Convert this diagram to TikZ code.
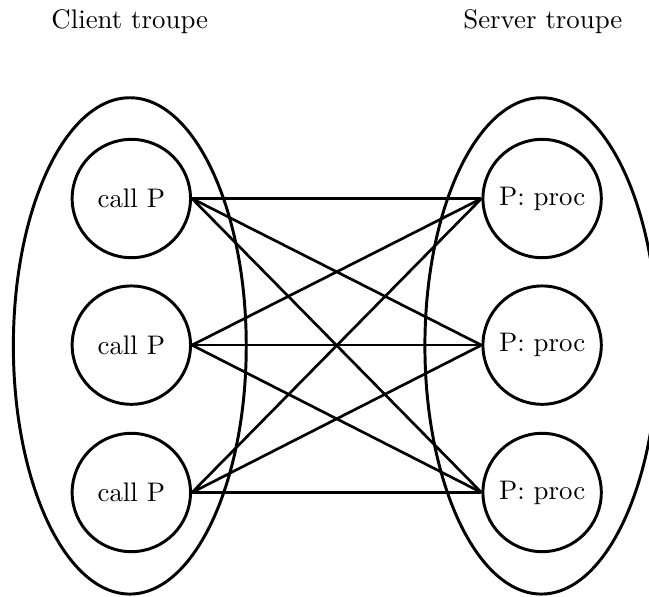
\documentclass[tikz,border=0pt]{standalone}
\usetikzlibrary{shapes.geometric}
\begin{document}
\begin{tikzpicture}[
  proc/.style={draw, circle, line width=1.1pt, minimum size=1.55cm, inner sep=0pt},
  troupe/.style={draw, ellipse, line width=1.1pt, minimum width=3.05cm, minimum height=6.5cm, inner sep=0pt},
  link/.style={line width=1pt}
]
  \useasboundingbox (0,0) rectangle (8.5,7.81);

  % Troupes
  \node[troupe] (ctroupe) at (1.70,3.28) {};
  \node[troupe] (stroupe) at (7.09,3.28) {};
  \node (ctitle) at (1.70,7.53) {Client troupe};
  \node (stitle) at (7.11,7.53) {Server troupe};

  % Members
  \foreach \i/\y in {1/5.21,2/3.29,3/1.36} {
    \node[proc] (c\i) at (1.72,\y) {call P};
    \node[proc] (s\i) at (7.10,\y) {P: proc};
  }

  % Every client member calls every server member
  \foreach \i in {1,2,3}
    \foreach \j in {1,2,3}
      \draw[link] (c\i.east) -- (s\j.west);
\end{tikzpicture}
\end{document}
